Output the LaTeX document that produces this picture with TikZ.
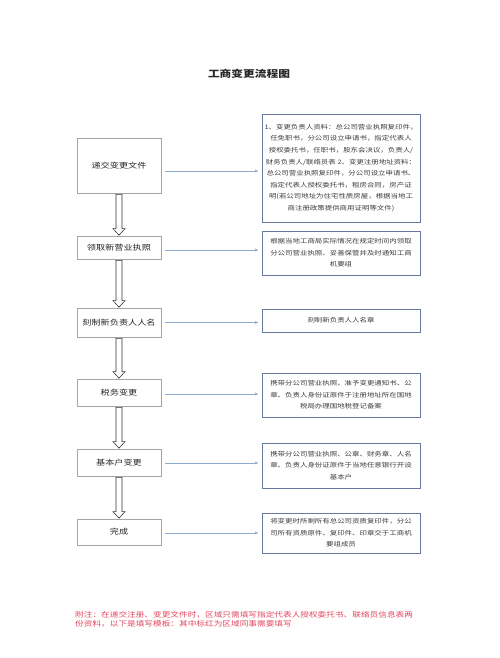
\documentclass[tikz,border=0pt]{standalone}
\usepackage{fontspec}
\setmainfont[FakeStretch=1.22]{Noto Sans CJK SC}
\usetikzlibrary{arrows.meta,shadows}
\definecolor{lborder}{RGB}{165,165,165}
\definecolor{rborder}{RGB}{105,122,160}
\definecolor{conncol}{RGB}{140,172,205}
\definecolor{rtext}{RGB}{60,60,60}
\definecolor{foot}{RGB}{228,70,95}
\tikzset{
  lbox/.style={draw=lborder, line width=0.7pt, fill=white, minimum width=84pt, inner sep=0pt,
    font=\fontsize{7.5}{9}\selectfont, text=black!85},
  rbox/.style={draw=rborder, line width=0.8pt, fill=white, minimum width=158pt, inner sep=0pt,
    align=center, font=\fontsize{6.1}{11.6}\selectfont, text=rtext,
    drop shadow={shadow xshift=1pt, shadow yshift=-1pt, opacity=0.25, fill=black!50}},
  conn/.style={draw=conncol, line width=0.6pt, -{Latex[length=3.5pt,width=3pt]}, shorten <=4pt, shorten >=3pt},
  hollow/.style={draw=black!80, line width=0.6pt, fill=white}
}
\newcommand\hollowarrow[2]{%
  \draw[hollow] ([xshift=-3pt,yshift=-1pt]#1.south) -- ([xshift=-3pt,yshift=7pt]#2.north)
    -- ([xshift=-6pt,yshift=7pt]#2.north) -- ([yshift=0.5pt]#2.north) -- ([xshift=6pt,yshift=7pt]#2.north)
    -- ([xshift=3pt,yshift=7pt]#2.north) -- ([xshift=3pt,yshift=-1pt]#1.south) -- cycle;}
\begin{document}
\begin{tikzpicture}[x=1pt,y=-1pt]
\useasboundingbox[fill=white] (0,0) rectangle (500,658);
\node[font=\fontsize{9.6}{11}\selectfont\bfseries, text=black!85] (title) at (249,74) {工商变更流程图};

% left boxes
\node[lbox, minimum height=55pt] (l1) at (119,165.5) {递交变更文件};
\node[lbox, minimum height=23pt] (l2) at (119,247.5) {领取新营业执照};
\node[lbox, minimum height=29pt] (l3) at (119,322.5) {刻制新负责人人名};
\node[lbox, minimum height=27pt] (l4) at (119,392.5) {税务变更};
\node[lbox, minimum height=27pt] (l5) at (119,462.5) {基本户变更};
\node[lbox, minimum height=26pt] (l6) at (119,532) {完成};

% right boxes
\node[rbox, minimum height=108pt] (r1) at (341,168) {1、变更负责人资料：总公司营业执照复印件，\\任免职书，分公司设立申请书，指定代表人\\授权委托书，任职书，股东会决议，负责人/\\财务负责人/联络员表 2、变更注册地址资料：\\总公司营业执照复印件，分公司设立申请书、\\指定代表人授权委托书，租房合同，房产证\\明(若公司地址为住宅性质房屋，根据当地工\\商注册政策提供商用证明等文件)};
\node[rbox, minimum height=44pt] (r2) at (341,253) {根据当地工商局实际情况在规定时间内领取\\分公司营业执照、妥善保管并及时通知工商\\机要组};
\node[rbox, minimum height=23pt] (r3) at (341,320.5) {刻制新负责人人名章};
\node[rbox, minimum height=44pt] (r4) at (341,395) {携带分公司营业执照、准予变更通知书、公\\章、负责人身份证原件于注册地址所在国地\\税局办理国地税登记备案};
\node[rbox, minimum height=45pt] (r5) at (341,465.5) {携带分公司营业执照、公章、财务章、人名\\章、负责人身份证原件于当地任意银行开设\\基本户};
\node[rbox, minimum height=40pt] (r6) at (341,533) {将变更时所剩所有总公司资质复印件，分公\\司所有资质原件、复印件、印章交于工商机\\要组成员};

% connectors
\draw[conn] ([yshift=-5.5pt]l1.east) -- ([yshift=-5.5pt]l1.east -| r1.west);
\draw[conn] ([yshift=-2.5pt]l2.east) -- ([yshift=-2.5pt]l2.east -| r2.west);
\draw[conn] (l3.east) -- (l3.east -| r3.west);
\draw[conn] ([yshift=-1.5pt]l4.east) -- ([yshift=-1.5pt]l4.east -| r4.west);
\draw[conn] ([yshift=-0.5pt]l5.east) -- ([yshift=-0.5pt]l5.east -| r5.west);
\draw[conn] ([yshift=-1pt]l6.east) -- ([yshift=-1pt]l6.east -| r6.west);

\hollowarrow{l1}{l2}
\hollowarrow{l2}{l3}
\hollowarrow{l3}{l4}
\hollowarrow{l4}{l5}
\hollowarrow{l5}{l6}

% footer
\node[anchor=north west, align=left, inner sep=0pt, text=foot, font=\fontsize{7.1}{9}\selectfont] (foot) at (75,611.5) {附注：在递交注册、变更文件时，区域只需填写指定代表人授权委托书、联络员信息表两\\份资料，以下是填写模板：其中标红为区域同事需要填写};
\end{tikzpicture}
\end{document}
